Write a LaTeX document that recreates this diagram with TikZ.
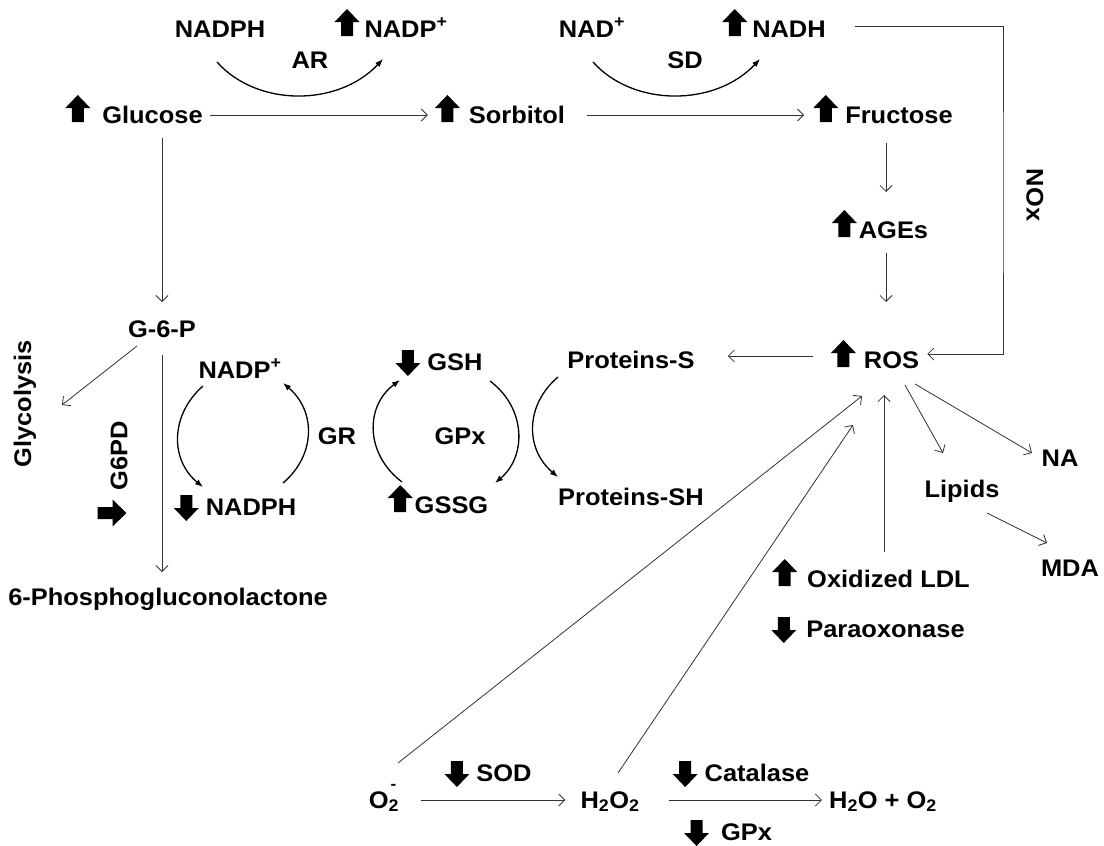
\documentclass[tikz,border=0pt]{standalone}
\usepackage{fontspec}
\setmainfont{Liberation Sans}[FakeStretch=1.06]
\usetikzlibrary{arrows.meta,calc}

% fat block arrows set in front of a label
\newcommand\upblk{\tikz[x=1pt,y=1pt,baseline=-1pt]\fill (6.5,0) -- (6.5,14) -- (0,14) -- (12.5,27) -- (25,14) -- (18.5,14) -- (18.5,0) -- cycle;}
\newcommand\dnblk{\tikz[x=1pt,y=1pt,baseline=0pt]\fill (6.5,20) -- (6.5,7) -- (0,7) -- (12.5,-6) -- (25,7) -- (18.5,7) -- (18.5,20) -- cycle;}
\newcommand\rtblk{\tikz[x=1pt,y=1pt]\fill (0,-6) -- (15,-6) -- (15,-13.5) -- (29,0) -- (15,13.5) -- (15,6) -- (0,6) -- cycle;}

\tikzset{
  lbl/.style={inner sep=0pt, anchor=base, font=\fontsize{24}{28}\selectfont\bfseries},
  flow/.style={draw=black!80, line width=0.8pt, -{Straight Barb[length=6pt,width=12pt]}},
  cyc/.style={draw=black, line width=1.3pt, -{Latex[length=8pt,width=6pt]}},
}

\begin{document}
\begin{tikzpicture}[x=1pt,y=-1pt]
\fill[white] (0,0) rectangle (1104,846);
\useasboundingbox (0,0) rectangle (1104,846);

% Text Node
\node[lbl] (nadpha) at (220,37) {NADPH};
\node[lbl] (nadpa) at (391,37) {\upblk\hspace{5pt}NADP\textsuperscript{+}};
\node[lbl] (ar) at (310,68) {AR};
\node[lbl] (nad) at (592,37) {NAD\textsuperscript{+}};
\node[lbl] (nadh) at (774,37) {\upblk\hspace{5pt}NADH};
\node[lbl] (sd) at (685,68) {SD};
\node[lbl] (glu) at (134,123) {\upblk\hspace{12pt}Glucose};
\node[lbl] (sorb) at (500,123) {\upblk\hspace{9pt}Sorbitol};
\node[lbl] (fru) at (883,123) {\upblk\hspace{7pt}Fructose};
\node[lbl] (ages) at (880,238) {\upblk\hspace{2pt}AGEs};
\node[lbl] (ros) at (875,368) {\upblk\hspace{8pt}ROS};
\coordinate (noxbend) at (1003,195);
\node[lbl, anchor=center, rotate=-90] (nox) at ($(noxbend)+(32,0)$) {NOx};

% Text Node
\node[lbl] (gsixp) at (162,337) {G-6-P};
\node[lbl, anchor=center, rotate=90] (glyco) at (25,404) {Glycolysis};
\node[lbl, anchor=center, rotate=90] (gpd) at (119,456) {G6PD};
\node[inner sep=0pt] (gpdarr) at (112,513) {\rtblk};
\node[lbl] (pgl) at (168,605) {6-Phosphogluconolactone};
\node[lbl] (nadpb) at (240,378) {NADP\textsuperscript{+}};
\node[lbl] (nadphb) at (235,515) {\dnblk\hspace{7pt}NADPH};
\node[lbl] (gr) at (337,444) {GR};
\node[lbl] (gsh) at (439,370) {\dnblk\hspace{7pt}GSH};
\node[lbl] (gpxa) at (460,444) {GPx};
\node[lbl] (gssg) at (438,513) {\upblk\hspace{2pt}GSSG};
\node[lbl] (prots) at (631,368) {Proteins-S};
\node[lbl] (protsh) at (631,505) {Proteins-SH};

% Text Node
\node[lbl] (na) at (1060,466) {NA};
\node[lbl] (lip) at (962,497) {Lipids};
\node[lbl] (mda) at (1070,576) {MDA};
\node[lbl] (oxldl) at (871,587) {\upblk\hspace{10pt}Oxidized LDL};
\node[lbl] (pon) at (868,637) {\dnblk\hspace{10pt}Paraoxonase};

% Text Node
\node[lbl] (otwo) at (384,808) {O\rlap{\hspace{2pt}\raisebox{19pt}{\fontsize{16}{16}\selectfont -}}\textsubscript{2}};
\node[lbl] (hoo) at (610,808) {H\textsubscript{2}O\textsubscript{2}};
\node[lbl] (water) at (883,808) {H\textsubscript{2}O + O\textsubscript{2}};
\node[lbl] (sod) at (488,781) {\dnblk\hspace{7pt}SOD};
\node[lbl] (cat) at (741,781) {\dnblk\hspace{7pt}Catalase};
\node[lbl] (gpxb) at (728,840) {\dnblk\hspace{12pt}GPx};

% Curved Lines
\draw[cyc] ($(nadpha.base)+(-3,25)$) .. controls +(40,45) and +(-45,48) .. ($(nadpa.base)+(-8,22)$);
\draw[cyc] ($(nad.base)+(1,25)$) .. controls +(40,45) and +(-45,48) .. ($(nadh.base)+(-14,22)$);
\draw[cyc] ($(nadpb.base)+(-37,8)$) .. controls +(-33,29) and +(-33,-27) .. ($(nadphb.base)+(-32,-28)$);
\draw[cyc] ($(nadphb.base)+(48,-32)$) .. controls +(33,-28) and +(33,28) .. ($(nadpb.base)+(43,5)$);
\draw[cyc] ($(gssg.base)+(-36,-31)$) .. controls +(-36,-27) and +(-36,27) .. ($(gsh.base)+(-39,10)$);
\draw[cyc] ($(gsh.base)+(51,11)$) .. controls +(36,27) and +(32,-27) .. ($(gssg.base)+(57,-30)$);
\draw[cyc] ($(prots.base)+(-73,9)$) .. controls +(-33,28) and +(-33,-28) .. ($(protsh.base)+(-73,-28)$);

% Straight Lines
\draw[flow] ($(glu.base east)+(7,-8)$) -- ($(sorb.base west)+(-7,-8)$);
\draw[flow] ($(sorb.base east)+(22,-8)$) -- ($(fru.base west)+(-9,-8)$);
\draw[flow] ($(fru.base)+(3,20)$) -- ($(ages.base)+(6,-46)$);
\draw[flow] ($(ages.base)+(6,15)$) -- ($(ros.base)+(11,-66)$);
\draw[flow] ($(nadh.base east)+(29,-11)$) -| (noxbend) |- ($(ros.base east)+(8,-14)$);
\draw[flow] ($(ros.base west)+(-18,-12)$) -- ($(prots.base east)+(33,-12)$);
\draw[flow] ($(glu.base)+(28,15)$) -- ($(gsixp.base)+(0,-35)$);
\draw[flow] ($(gsixp.base)+(-25,9)$) -- ($(glyco.center)+(37,1)$);
\draw[flow] ($(gsixp.base)+(0,18)$) -- ($(pgl.base)+(-6,-33)$);

% Straight Lines
\draw[flow] ($(otwo.base)+(14,-45)$) -- ($(ros.base)+(-13,28)$);
\draw[flow] ($(hoo.base)+(8,-35)$) -- ($(ros.base)+(-22,57)$);
\draw[flow] ($(oxldl.base)+(13,-35)$) -- ($(ros.base)+(9,27)$);
\draw[flow] ($(ros.base)+(30,17)$) -- ($(lip.base)+(-19,-44)$);
\draw[flow] ($(ros.base)+(40,16)$) -- ($(na.base)+(-28,-13)$);
\draw[flow] ($(lip.base)+(25,16)$) -- ($(mda.base)+(-23,-33)$);
\draw[flow] ($(otwo.base east)+(22,-8)$) -- ($(hoo.base west)+(-15,-8)$);
\draw[flow] ($(hoo.base east)+(29,-8)$) -- ($(water.base west)+(-7,-8)$);

\end{tikzpicture}
\end{document}
